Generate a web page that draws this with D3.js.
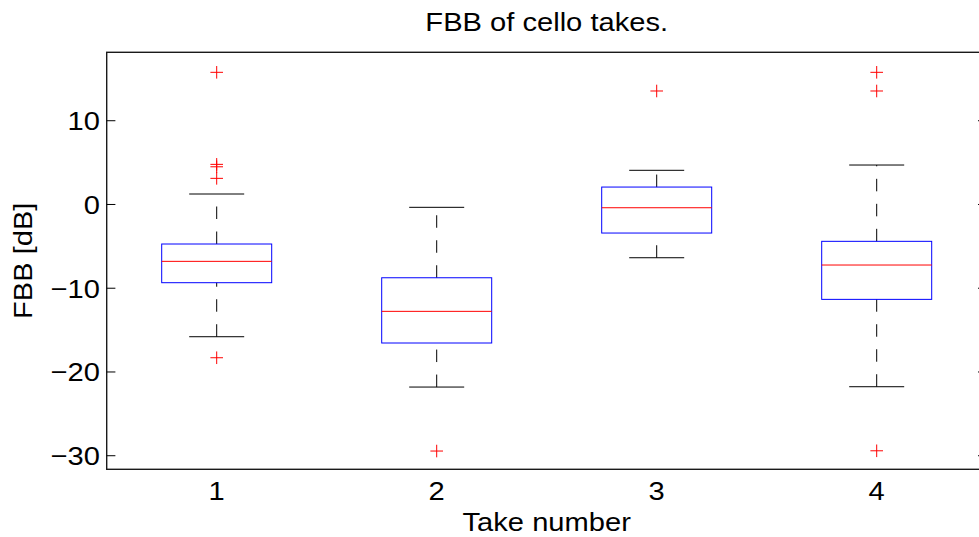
<!DOCTYPE html>
<html>
<head>
<meta charset="utf-8">
<script src="https://cdn.jsdelivr.net/npm/d3@7"></script>
<style>
  body { margin: 0; background: #fff; }
  text { font-family: "Liberation Sans", Arial, Helvetica, sans-serif; fill: #000; }
</style>
</head>
<body>
<div id="chart"></div>
<script>
// --- data ---
var takes = [1, 2, 3, 4];
var q1 = [-9.34, -16.54, -3.41, -11.33];
var medians = [-6.79, -12.76, -0.39, -7.23];
var q3 = [-4.72, -8.75, 2.08, -4.4];
var lowWhisker = [-15.79, -21.8, -6.36, -21.76];
var highWhisker = [1.25, -0.34, 4.08, 4.71];
var outliers = [
  [15.78, 4.79, 4.5, 3.12, -18.3],
  [-29.44],
  [13.55],
  [15.78, 13.55, -29.41]
];
var yTicks = [-30, -20, -10, 0, 10];

function translate(x, y) {
  return "translate(" + x + ", " + y + ")";
}

function drawChart() {
  // MATLAB's Helvetica comes out wider than Liberation Sans
  var fontSize = 26, stretch = 1.12;

  var w = 979, h = 537;
  var pLeft = 106.7, pRight = 986.7, pTop = 52.3, pBottom = 469.3;

  var svg = d3.select("#chart").append("svg")
    .attr("width", w)
    .attr("height", h);

  var x = d3.scaleLinear().domain([0.5, 4.5]).range([pLeft, pRight]);
  var y = d3.scaleLinear().domain([-31.62, 18.17]).range([pBottom, pTop]);

  var boxHalf = 0.25, capHalf = 0.125;

  var data = takes.map(function (t, i) {
    return {
      take: t,
      q1: q1[i], med: medians[i], q3: q3[i],
      lo: lowWhisker[i], hi: highWhisker[i],
      out: outliers[i]
    };
  });

  var g = svg.append("g");

  // whiskers (dash pattern starts at the lower value, like MATLAB)
  g.selectAll(".whisker-up").data(data).enter().append("line")
    .attr("x1", function (d) { return x(d.take); })
    .attr("x2", function (d) { return x(d.take); })
    .attr("y1", function (d) { return y(d.q3); })
    .attr("y2", function (d) { return y(d.hi); })
    .attr("stroke", "#000")
    .attr("stroke-width", 1)
    .attr("stroke-dasharray", "12.5,12.5");

  g.selectAll(".whisker-down").data(data).enter().append("line")
    .attr("x1", function (d) { return x(d.take); })
    .attr("x2", function (d) { return x(d.take); })
    .attr("y1", function (d) { return y(d.lo); })
    .attr("y2", function (d) { return y(d.q1); })
    .attr("stroke", "#000")
    .attr("stroke-width", 1)
    .attr("stroke-dasharray", "12.5,12.5");

  // caps
  ["hi", "lo"].forEach(function (k) {
    g.selectAll(".cap-" + k).data(data).enter().append("line")
      .attr("x1", function (d) { return x(d.take - capHalf); })
      .attr("x2", function (d) { return x(d.take + capHalf); })
      .attr("y1", function (d) { return y(d[k]); })
      .attr("y2", function (d) { return y(d[k]); })
      .attr("stroke", "#000")
      .attr("stroke-width", 1);
  });

  // boxes
  g.selectAll(".box").data(data).enter().append("rect")
    .attr("x", function (d) { return x(d.take - boxHalf); })
    .attr("width", function (d) { return x(d.take + boxHalf) - x(d.take - boxHalf); })
    .attr("y", function (d) { return y(d.q3); })
    .attr("height", function (d) { return y(d.q1) - y(d.q3); })
    .attr("fill", "none")
    .attr("stroke", "#0000ff")
    .attr("stroke-width", 1);

  // medians
  g.selectAll(".median").data(data).enter().append("line")
    .attr("x1", function (d) { return x(d.take - boxHalf); })
    .attr("x2", function (d) { return x(d.take + boxHalf); })
    .attr("y1", function (d) { return y(d.med); })
    .attr("y2", function (d) { return y(d.med); })
    .attr("stroke", "#ff0000")
    .attr("stroke-width", 1);

  // outliers as red '+'
  var pts = [];
  data.forEach(function (d) {
    d.out.forEach(function (v) { pts.push({ take: d.take, v: v }); });
  });
  var m = 6.3;
  g.selectAll(".outlier").data(pts).enter().append("path")
    .attr("d", function (d) {
      var cx = x(d.take), cy = y(d.v);
      return "M" + (cx - m) + "," + cy + "H" + (cx + m) +
        "M" + cx + "," + (cy - m) + "V" + (cy + m);
    })
    .attr("stroke", "#ff0000")
    .attr("stroke-width", 1)
    .attr("fill", "none");

  // frame
  svg.append("rect")
    .attr("x", pLeft).attr("y", pTop)
    .attr("width", pRight - pLeft).attr("height", pBottom - pTop)
    .attr("fill", "none")
    .attr("stroke", "#1a1a1a")
    .attr("stroke-width", 1.4);

  // y ticks (inward, both sides)
  var tickLen = 8.7;
  svg.append("g").selectAll("line").data(yTicks).enter().append("line")
    .attr("x1", pLeft).attr("x2", pLeft + tickLen)
    .attr("y1", function (d) { return y(d); })
    .attr("y2", function (d) { return y(d); })
    .attr("stroke", "#000");
  svg.append("g").selectAll("line").data(yTicks).enter().append("line")
    .attr("x1", pRight - tickLen).attr("x2", pRight)
    .attr("y1", function (d) { return y(d); })
    .attr("y2", function (d) { return y(d); })
    .attr("stroke", "#000");

  // y tick labels
  svg.append("g").selectAll("text").data(yTicks).enter().append("text")
    .attr("transform", function (d) {
      return translate(100, y(d) + 9.5) + " scale(" + stretch + ",1)";
    })
    .attr("text-anchor", "end")
    .attr("font-size", fontSize + "px")
    .text(function (d) { return d < 0 ? "\u2212" + Math.abs(d) : d; });

  // x tick labels
  svg.append("g").selectAll("text").data(takes).enter().append("text")
    .attr("transform", function (d) {
      return translate(x(d), 499.5) + " scale(" + stretch + ",1)";
    })
    .attr("text-anchor", "middle")
    .attr("font-size", fontSize + "px")
    .text(function (d) { return d; });

  // axis labels and title
  svg.append("text")
    .attr("transform", translate((pLeft + pRight) / 2, 531) + " scale(" + stretch + ",1)")
    .attr("text-anchor", "middle")
    .attr("font-size", fontSize + "px")
    .text("Take number");

  svg.append("text")
    .attr("transform", translate(32, (pTop + pBottom) / 2) + " rotate(-90) scale(" + stretch + ",1)")
    .attr("text-anchor", "middle")
    .attr("font-size", fontSize + "px")
    .text("FBB [dB]");

  svg.append("text")
    .attr("transform", translate((pLeft + pRight) / 2, 31) + " scale(" + stretch + ",1)")
    .attr("text-anchor", "middle")
    .attr("font-size", fontSize + "px")
    .text("FBB of cello takes.");
}

drawChart();
</script>
</body>
</html>
